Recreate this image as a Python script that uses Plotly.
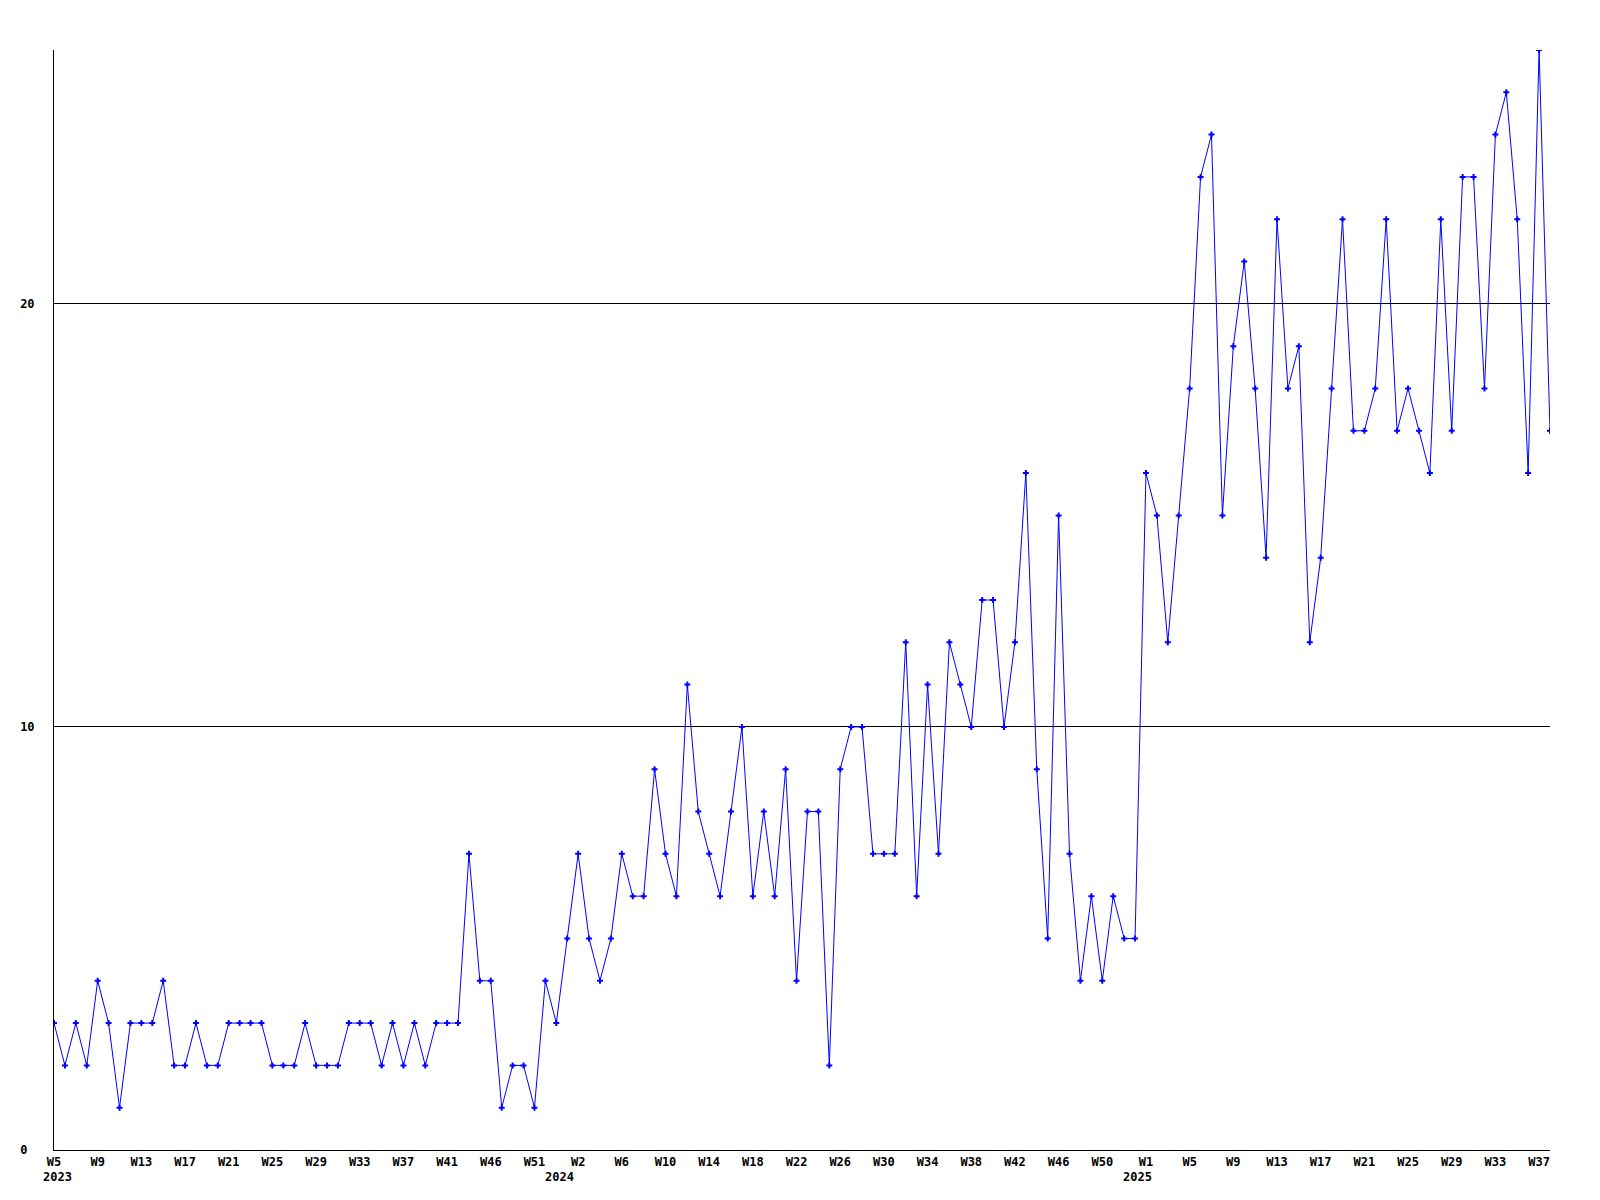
import plotly.graph_objects as go

# weekly values, 2023 W5 .. 2025 W38
values = [
    3, 2, 3, 2, 4, 3, 1, 3, 3, 3,
    4, 2, 2, 3, 2, 2, 3, 3, 3, 3,
    2, 2, 2, 3, 2, 2, 2, 3, 3, 3,
    2, 3, 2, 3, 2, 3, 3, 3, 7, 4,
    4, 1, 2, 2, 1, 4, 3, 5, 7, 5,
    4, 5, 7, 6, 6, 9, 7, 6, 11, 8,
    7, 6, 8, 10, 6, 8, 6, 9, 4, 8,
    8, 2, 9, 10, 10, 7, 7, 7, 12, 6,
    11, 7, 12, 11, 10, 13, 13, 10, 12, 16,
    9, 5, 15, 7, 4, 6, 4, 6, 5, 5,
    16, 15, 12, 15, 18, 23, 24, 15, 19, 21,
    18, 14, 22, 18, 19, 12, 14, 18, 22, 17,
    17, 18, 22, 17, 18, 17, 16, 22, 17, 23,
    23, 18, 24, 25, 22, 16, 26, 17,
]

# one label every 4 weeks
week_labels = [
    "W5", "W9", "W13", "W17", "W21", "W25", "W29", "W33", "W37", "W41",
    "W46", "W51", "W2", "W6", "W10", "W14", "W18", "W22", "W26", "W30",
    "W34", "W38", "W42", "W46", "W50", "W1", "W5", "W9", "W13", "W17",
    "W21", "W25", "W29", "W33", "W37",
]
years = ["2023", "2024", "2025"]
year_at = [0.3, 46.3, 99.2]  # where the year text sits on the week axis

y_ticks = [0, 10, 20]

x = list(range(len(values)))
font = dict(family="DejaVu Sans Mono", size=12, color="black", weight="bold")

fig = go.Figure()
fig.add_trace(go.Scatter(
    x=x, y=values, mode="lines+markers",
    line=dict(color="#0000ff", width=1),
    marker=dict(symbol="cross", size=5, color="#0000ff"),
    hoverinfo="y",
))

for yr, pos in zip(years, year_at):
    fig.add_annotation(
        x=pos, xref="x", y=-0.0245, yref="paper",
        text=yr, showarrow=False, font=font,
        xanchor="center", yanchor="middle",
    )

fig.update_xaxes(
    range=[0, len(values) - 1],
    tickvals=list(range(0, len(values), 4)), ticktext=week_labels,
    showgrid=False, zeroline=False, showline=True,
    linecolor="black", linewidth=1, ticks="", tickfont=font,
    ticklabelstandoff=1,
)
fig.update_yaxes(
    range=[0, 26], tickvals=y_ticks,
    ticktext=["0\u00a0", "10", "20"],
    showgrid=True, gridcolor="black", gridwidth=1,
    zeroline=False, showline=True, linecolor="black", linewidth=1,
    ticks="", tickfont=font, ticklabelstandoff=16,
)
# page body has an 8px margin, so the figure is a bit smaller than the window
fig.update_layout(
    width=1592, height=1192,
    margin=dict(l=42, r=50, t=42, b=50),
    plot_bgcolor="white", paper_bgcolor="white",
    showlegend=False,
)

fig.write_html("out.html")
